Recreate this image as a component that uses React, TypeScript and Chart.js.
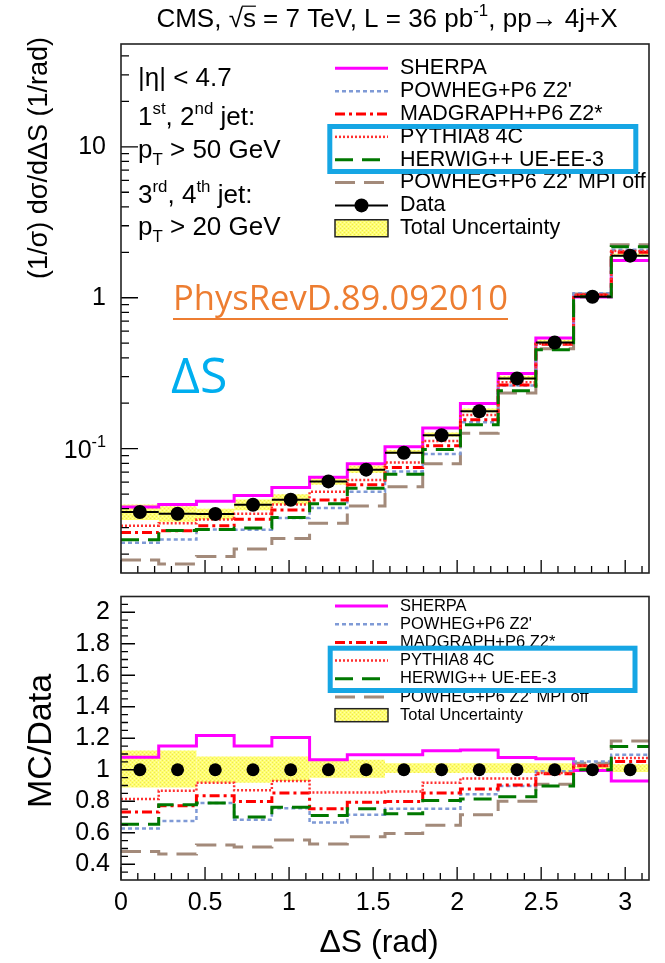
import React, { useEffect, useRef } from 'react';
import { Chart, registerables } from 'chart.js';

Chart.register(...registerables);

const FONT = '"Liberation Sans", Arial, Helvetica, sans-serif';
const DECO_FONT = '"Open Sans", "Noto Sans", sans-serif';

// ---------- data ----------
const BIN_EDGES = [0, 0.2244, 0.4488, 0.6732, 0.8976, 1.122, 1.3464, 1.5708, 1.7952, 2.0196, 2.244, 2.4684, 2.6928, 2.9172, 3.1416];

const DATA = [0.038, 0.037, 0.0369, 0.0425, 0.0459, 0.0607, 0.0726, 0.094, 0.1226, 0.177, 0.292, 0.505, 1.015, 1.9];
const UNC_HI = [0.0426, 0.0415, 0.04, 0.0461, 0.0498, 0.0646, 0.0772, 0.0979, 0.1278, 0.1844, 0.3043, 0.5262, 1.035, 1.967];
const UNC_LO = [0.0337, 0.0328, 0.0339, 0.039, 0.0426, 0.0576, 0.0689, 0.0921, 0.1201, 0.1735, 0.2862, 0.4949, 1.0, 1.872];

const SHERPA = [0.041, 0.0426, 0.0449, 0.0489, 0.0553, 0.0646, 0.0795, 0.1029, 0.1373, 0.1993, 0.3148, 0.5404, 1.01, 1.763];
const POWHEG = [0.0238, 0.025, 0.0291, 0.029, 0.0347, 0.0404, 0.0518, 0.0707, 0.0922, 0.1496, 0.2619, 0.5005, 1.069, 2.081];
const MADGRAPH = [0.0278, 0.0286, 0.0308, 0.034, 0.0392, 0.0456, 0.0576, 0.0751, 0.1046, 0.1552, 0.2637, 0.4919, 1.041, 2.001];
const PYTHIA8 = [0.0309, 0.032, 0.0339, 0.037, 0.0426, 0.0519, 0.0621, 0.081, 0.1125, 0.1673, 0.2759, 0.4949, 1.041, 2.041];
const HERWIG = [0.0249, 0.0287, 0.0291, 0.0298, 0.035, 0.0431, 0.0546, 0.0678, 0.0986, 0.1441, 0.2421, 0.453, 1.015, 2.179];
const MPI_OFF = [0.0183, 0.0172, 0.0193, 0.0216, 0.0254, 0.0321, 0.0417, 0.056, 0.0794, 0.1264, 0.2336, 0.4585, 1.058, 2.246];

const DATA_R = [1, 1, 1, 1, 1, 1, 1, 1, 1, 1, 1, 1, 1, 1];
const UNC_HI_R = [1.122, 1.122, 1.084, 1.084, 1.084, 1.064, 1.064, 1.042, 1.042, 1.042, 1.042, 1.042, 1.02, 1.035];
const UNC_LO_R = [0.887, 0.887, 0.918, 0.918, 0.928, 0.949, 0.949, 0.98, 0.98, 0.98, 0.98, 0.98, 0.985, 0.985];
const SHERPA_R = [1.08, 1.151, 1.217, 1.151, 1.204, 1.064, 1.095, 1.095, 1.12, 1.126, 1.078, 1.07, 0.995, 0.928];
const POWHEG_R = [0.627, 0.675, 0.789, 0.683, 0.756, 0.665, 0.714, 0.752, 0.752, 0.845, 0.897, 0.991, 1.053, 1.095];
const MADGRAPH_R = [0.731, 0.772, 0.835, 0.799, 0.853, 0.752, 0.793, 0.799, 0.853, 0.877, 0.903, 0.974, 1.026, 1.053];
const PYTHIA8_R = [0.814, 0.866, 0.918, 0.87, 0.928, 0.855, 0.855, 0.862, 0.918, 0.945, 0.945, 0.98, 1.026, 1.074];
const HERWIG_R = [0.654, 0.777, 0.789, 0.7, 0.762, 0.71, 0.752, 0.721, 0.804, 0.814, 0.829, 0.897, 1.0, 1.147];
const MPI_OFF_R = [0.481, 0.465, 0.523, 0.509, 0.554, 0.529, 0.575, 0.596, 0.648, 0.714, 0.8, 0.908, 1.042, 1.182];

const X_MAJOR = [0, 0.5, 1, 1.5, 2, 2.5, 3];
const X_MINOR = [0.1, 0.2, 0.3, 0.4, 0.6, 0.7, 0.8, 0.9, 1.1, 1.2, 1.3, 1.4, 1.6, 1.7, 1.8, 1.9, 2.1, 2.2, 2.3, 2.4, 2.6, 2.7, 2.8, 2.9, 3.1];
const TOP_Y_LABELS = [0.1, 1, 10];
const TOP_Y_MINOR = [0.02, 0.03, 0.04, 0.05, 0.06, 0.07, 0.08, 0.09, 0.2, 0.3, 0.4, 0.5, 0.6, 0.7, 0.8, 0.9, 2, 3, 4, 5, 6, 7, 8, 9, 20, 30, 40];
const RATIO_Y_LABELS = [0.4, 0.6, 0.8, 1, 1.2, 1.4, 1.6, 1.8, 2];
const RATIO_Y_MINOR = [0.35, 0.45, 0.5, 0.55, 0.65, 0.7, 0.75, 0.85, 0.9, 0.95, 1.05, 1.1, 1.15, 1.25, 1.3, 1.35, 1.45, 1.5, 1.55, 1.65, 1.7, 1.75, 1.85, 1.9, 1.95, 2.05];

const TOP_SERIES = [SHERPA, POWHEG, MADGRAPH, PYTHIA8, HERWIG, MPI_OFF];
const RATIO_SERIES = [SHERPA_R, POWHEG_R, MADGRAPH_R, PYTHIA8_R, HERWIG_R, MPI_OFF_R];

// ---------- styles ----------
const SERIES_STYLE = [
  { label: 'SHERPA', color: '#ff00ff', dash: [] as number[], width: 3, order: 6 },
  { label: "POWHEG+P6 Z2'", color: '#7f9ad6', dash: [4, 3], width: 2.5, order: 5 },
  { label: 'MADGRAPH+P6 Z2*', color: '#ff0000', dash: [10, 4, 3, 4], width: 3, order: 4 },
  { label: 'PYTHIA8 4C', color: '#ff3030', dash: [2, 2], width: 2.5, order: 3 },
  { label: 'HERWIG++ UE-EE-3', color: '#007800', dash: [18, 9], width: 3, order: 2 },
  { label: "POWHEG+P6 Z2' MPI off", color: '#a38a7a', dash: [20, 9], width: 3, order: 7 },
];

const TOP_Y_MIN = 0.015;
const TOP_Y_MAX = 48;
const RATIO_Y_MIN = 0.3;
const RATIO_Y_MAX = 2.1;

// ---------- helpers ----------
function centers() {
  return BIN_EDGES.slice(0, -1).map((e, i) => (e + BIN_EDGES[i + 1]) / 2);
}

function stepPoints(vals: number[], dropTo?: number) {
  const pts: { x: number; y: number }[] = vals.map((v, i) => ({ x: BIN_EDGES[i], y: v }));
  pts.push({ x: BIN_EDGES[vals.length], y: vals[vals.length - 1] });
  if (dropTo !== undefined) pts.push({ x: BIN_EDGES[vals.length], y: dropTo });
  return pts;
}

function makePattern(): CanvasPattern | string {
  const c = document.createElement('canvas');
  c.width = 4;
  c.height = 4;
  const g = c.getContext('2d');
  if (!g) return '#ffff70';
  g.fillStyle = '#ffff6e';
  g.fillRect(0, 0, 4, 4);
  g.fillStyle = '#ece35a';
  g.fillRect(0, 0, 1, 1);
  g.fillRect(2, 2, 1, 1);
  g.fillStyle = '#fffbb0';
  g.fillRect(2, 0, 1, 1);
  g.fillRect(0, 2, 1, 1);
  return g.createPattern(c, 'repeat') || '#ffff70';
}

type Part = { t: string; mode?: 'sup' | 'sub'; over?: boolean };

function richWidth(ctx: CanvasRenderingContext2D, parts: Part[], size: number, family: string) {
  let w = 0;
  for (const p of parts) {
    const s = p.mode ? size * 0.65 : size;
    ctx.font = `${s}px ${family}`;
    w += ctx.measureText(p.t).width;
  }
  return w;
}

function drawRich(ctx: CanvasRenderingContext2D, parts: Part[], x: number, y: number, size: number, family: string, align: 'left' | 'center') {
  const w = richWidth(ctx, parts, size, family);
  let cx = align === 'center' ? x - w / 2 : x;
  ctx.textAlign = 'left';
  ctx.textBaseline = 'alphabetic';
  for (const p of parts) {
    const s = p.mode ? size * 0.65 : size;
    const dy = p.mode === 'sup' ? -size * 0.42 : p.mode === 'sub' ? size * 0.25 : 0;
    ctx.font = `${s}px ${family}`;
    ctx.fillText(p.t, cx, y + dy);
    const pw = ctx.measureText(p.t).width;
    if (p.over) {
      ctx.save();
      ctx.lineWidth = 1.2;
      ctx.strokeStyle = ctx.fillStyle as string;
      ctx.beginPath();
      ctx.moveTo(cx - 1, y - size * 0.8);
      ctx.lineTo(cx + pw, y - size * 0.8);
      ctx.stroke();
      ctx.restore();
    }
    cx += pw;
  }
}

function drawTickSet(chart: any, vals: number[], len: number, axis: 'x' | 'y') {
  const { ctx, chartArea: a } = chart;
  const sc = chart.scales[axis];
  ctx.beginPath();
  for (const v of vals) {
    const p = sc.getPixelForValue(v);
    if (axis === 'x') {
      ctx.moveTo(p, a.bottom);
      ctx.lineTo(p, a.bottom - len);
    } else {
      ctx.moveTo(a.left, p);
      ctx.lineTo(a.left + len, p);
    }
  }
  ctx.stroke();
}

type LegendItem = { label: string; kind: 'line' | 'data' | 'band'; color?: string; dash?: number[]; width?: number };

function drawLegend(
  ctx: CanvasRenderingContext2D,
  items: LegendItem[],
  o: { x0: number; x1: number; textX: number; y0: number; step: number; size: number; boxH: number; pattern: CanvasPattern | string }
) {
  items.forEach((it, i) => {
    const y = o.y0 + i * o.step;
    ctx.save();
    if (it.kind === 'line') {
      ctx.strokeStyle = it.color || '#000';
      ctx.lineWidth = it.width || 2;
      ctx.setLineDash(it.dash || []);
      ctx.beginPath();
      ctx.moveTo(o.x0, y);
      ctx.lineTo(o.x1, y);
      ctx.stroke();
    } else if (it.kind === 'data') {
      ctx.strokeStyle = '#000';
      ctx.lineWidth = 2;
      ctx.beginPath();
      ctx.moveTo(o.x0, y);
      ctx.lineTo(o.x1, y);
      ctx.stroke();
      ctx.fillStyle = '#000';
      ctx.beginPath();
      ctx.arc((o.x0 + o.x1) / 2, y, 7, 0, Math.PI * 2);
      ctx.fill();
    } else {
      ctx.fillStyle = o.pattern as any;
      ctx.fillRect(o.x0, y - o.boxH / 2, o.x1 - o.x0, o.boxH);
      ctx.strokeStyle = '#222';
      ctx.lineWidth = 1.5;
      ctx.strokeRect(o.x0, y - o.boxH / 2, o.x1 - o.x0, o.boxH);
    }
    ctx.restore();
    ctx.fillStyle = '#000';
    ctx.font = `${o.size}px ${FONT}`;
    ctx.textAlign = 'left';
    ctx.textBaseline = 'middle';
    ctx.fillText(it.label, o.textX, y);
  });
}

function mcLegendItems(): LegendItem[] {
  return SERIES_STYLE.map((s) => ({ label: s.label, kind: 'line' as const, color: s.color, dash: s.dash, width: s.width }));
}

function drawFrame(chart: any) {
  const { ctx, chartArea: a } = chart;
  ctx.save();
  ctx.strokeStyle = '#222';
  ctx.lineWidth = 1.6;
  ctx.strokeRect(a.left, a.top, a.right - a.left, a.bottom - a.top);
  ctx.restore();
}

function highlightBox(ctx: CanvasRenderingContext2D, x0: number, y0: number, x1: number, y1: number) {
  ctx.save();
  ctx.strokeStyle = '#16a6e4';
  ctx.lineWidth = 5;
  ctx.strokeRect(x0, y0, x1 - x0, y1 - y0);
  ctx.restore();
}

function mcDatasets(series: number[][], dropTo?: number) {
  return SERIES_STYLE.map((s, k) => ({
    type: 'line' as const,
    label: s.label,
    data: stepPoints(series[k], dropTo),
    borderColor: s.color,
    borderDash: s.dash,
    borderWidth: s.width,
    pointRadius: 0,
    stepped: 'before' as const,
    fill: false,
    order: s.order,
  }));
}

function bandDataset(lo: number[], hi: number[], pattern: CanvasPattern | string) {
  const c = centers();
  return {
    type: 'bar' as const,
    label: 'Total Uncertainty',
    data: lo.map((v, i) => ({ x: c[i], y: [v, hi[i]] })),
    backgroundColor: pattern as any,
    borderWidth: 0,
    barPercentage: 1,
    categoryPercentage: 1,
    inflateAmount: 0,
    order: 20,
  };
}

function dotsDataset(vals: number[], r: number) {
  const c = centers();
  return {
    type: 'line' as const,
    label: 'Data',
    data: vals.map((v, i) => ({ x: c[i], y: v })),
    showLine: false,
    pointRadius: r,
    pointBackgroundColor: '#000',
    pointBorderWidth: 0,
    order: 0,
  };
}

function dataBarsDataset(vals: number[]) {
  const pts: { x: number; y: number | null }[] = [];
  vals.forEach((v, i) => {
    pts.push({ x: BIN_EDGES[i], y: v }, { x: BIN_EDGES[i + 1], y: v }, { x: BIN_EDGES[i + 1], y: null });
  });
  return {
    type: 'line' as const,
    label: 'Data bins',
    data: pts,
    borderColor: '#000',
    borderWidth: 2,
    pointRadius: 0,
    spanGaps: false,
    order: 1,
  };
}

// ---------- top panel ----------
function topConfig(pattern: CanvasPattern | string): any {
  const decor = {
    id: 'topDecor',
    afterDatasetsDraw(chart: any) {
      const { ctx } = chart;
      ctx.save();
      ctx.strokeStyle = '#000';
      ctx.lineWidth = 1.3;
      drawTickSet(chart, X_MAJOR, 13, 'x');
      drawTickSet(chart, X_MINOR, 7, 'x');
      drawTickSet(chart, TOP_Y_LABELS, 17, 'y');
      drawTickSet(chart, TOP_Y_MINOR, 8, 'y');
      ctx.restore();
      drawFrame(chart);
    },
    afterDraw(chart: any) {
      const { ctx, scales } = chart;
      ctx.save();
      ctx.fillStyle = '#000';
      // 10^-1 tick label
      const py = scales.y.getPixelForValue(0.1);
      const lab: Part[] = [{ t: '10' }, { t: '-1', mode: 'sup' }];
      const w = richWidth(ctx, lab, 25, FONT);
      drawRich(ctx, lab, 106 - w, py + 9, 25, FONT, 'left');

      // title
      drawRich(
        ctx,
        [{ t: 'CMS, ' }, { t: '√' }, { t: 's', over: true }, { t: ' = 7 TeV, L = 36 pb' }, { t: '-1', mode: 'sup' }, { t: ', pp→ 4j+X' }],
        387,
        27,
        26,
        FONT,
        'center'
      );

      // y axis title
      ctx.save();
      ctx.translate(40, 37);
      ctx.rotate(-Math.PI / 2);
      ctx.font = `27px ${FONT}`;
      ctx.textAlign = 'right';
      ctx.textBaseline = 'middle';
      ctx.fillText('(1/σ) dσ/dΔS (1/rad)', 0, 0);
      ctx.restore();

      // cuts text
      const S = 26;
      drawRich(ctx, [{ t: '|η| < 4.7' }], 138, 86, S, FONT, 'left');
      drawRich(ctx, [{ t: '1' }, { t: 'st', mode: 'sup' }, { t: ', 2' }, { t: 'nd', mode: 'sup' }, { t: ' jet:' }], 138, 125, S, FONT, 'left');
      drawRich(ctx, [{ t: 'p' }, { t: 'T', mode: 'sub' }, { t: ' > 50 GeV' }], 138, 158, S, FONT, 'left');
      drawRich(ctx, [{ t: '3' }, { t: 'rd', mode: 'sup' }, { t: ', 4' }, { t: 'th', mode: 'sup' }, { t: ' jet:' }], 138, 203, S, FONT, 'left');
      drawRich(ctx, [{ t: 'p' }, { t: 'T', mode: 'sub' }, { t: ' > 20 GeV' }], 138, 235, S, FONT, 'left');

      // legend
      const items: LegendItem[] = [
        ...mcLegendItems(),
        { label: 'Data', kind: 'data' },
        { label: 'Total Uncertainty', kind: 'band' },
      ];
      drawLegend(ctx, items, { x0: 335, x1: 388, textX: 400, y0: 68.3, step: 22.85, size: 21.5, boxH: 17, pattern });
      highlightBox(ctx, 329.8, 126.5, 635.8, 171.5);

      // reference annotation
      ctx.fillStyle = '#ed7d31';
      let fs = 32;
      ctx.font = `${fs}px ${DECO_FONT}`;
      const tw = ctx.measureText('PhysRevD.89.092010').width;
      fs = (fs * 335) / tw;
      ctx.font = `${fs}px ${DECO_FONT}`;
      ctx.textAlign = 'left';
      ctx.textBaseline = 'alphabetic';
      ctx.fillText('PhysRevD.89.092010', 173, 310);
      ctx.fillRect(173, 318, 335, 2);

      ctx.fillStyle = '#00aeef';
      ctx.font = `50px ${DECO_FONT}`;
      ctx.fillText('ΔS', 171, 393);
      ctx.restore();
    },
  };

  return {
    type: 'line',
    data: {
      datasets: [
        bandDataset(UNC_LO, UNC_HI, pattern),
        ...mcDatasets(TOP_SERIES, 1e-4),
        dataBarsDataset(DATA),
        dotsDataset(DATA, 7),
      ],
    },
    options: {
      responsive: false,
      animation: false,
      events: [],
      layout: { padding: { left: 0, top: 44, right: 16, bottom: 0 } },
      plugins: { legend: { display: false }, tooltip: { enabled: false }, title: { display: false } },
      scales: {
        x: {
          type: 'linear',
          min: 0,
          max: Math.PI,
          offset: false,
          grid: { display: false, drawTicks: false },
          border: { display: false },
          ticks: { display: false },
          afterFit: (s: any) => {
            s.height = 17;
            s.paddingLeft = 0;
            s.paddingRight = 0;
          },
        },
        y: {
          type: 'logarithmic',
          min: TOP_Y_MIN,
          max: TOP_Y_MAX,
          grid: { display: false, drawTicks: false },
          border: { display: false },
          afterBuildTicks: (s: any) => {
            s.ticks = TOP_Y_LABELS.map((v) => ({ value: v }));
          },
          ticks: {
            callback: (v: number) => (v === 10 ? '10' : v === 1 ? '1' : ''),
            font: { family: FONT, size: 25 },
            color: '#000',
            padding: 15,
          },
          afterFit: (s: any) => {
            s.width = 121;
            s.paddingTop = 0;
            s.paddingBottom = 0;
          },
        },
      },
    },
    plugins: [decor],
  };
}

// ---------- ratio panel ----------
function ratioConfig(pattern: CanvasPattern | string): any {
  const decor = {
    id: 'ratioDecor',
    afterDatasetsDraw(chart: any) {
      const { ctx } = chart;
      ctx.save();
      ctx.strokeStyle = '#000';
      ctx.lineWidth = 1.3;
      drawTickSet(chart, X_MAJOR, 13, 'x');
      drawTickSet(chart, X_MINOR, 7, 'x');
      drawTickSet(chart, RATIO_Y_LABELS, 14, 'y');
      drawTickSet(chart, RATIO_Y_MINOR, 7, 'y');
      ctx.restore();
      drawFrame(chart);
    },
    afterDraw(chart: any) {
      const { ctx } = chart;
      ctx.save();
      ctx.fillStyle = '#000';
      // y title
      ctx.save();
      ctx.translate(42, 151);
      ctx.rotate(-Math.PI / 2);
      ctx.font = `34px ${FONT}`;
      ctx.textAlign = 'center';
      ctx.textBaseline = 'middle';
      ctx.fillText('MC/Data', 0, 0);
      ctx.restore();
      // x title
      drawRich(ctx, [{ t: 'ΔS (rad)' }], 379, 362, 32, FONT, 'center');

      const items: LegendItem[] = [...mcLegendItems(), { label: 'Total Uncertainty', kind: 'band' }];
      drawLegend(ctx, items, { x0: 335, x1: 388, textX: 400, y0: 16, step: 18.2, size: 16.5, boxH: 13, pattern });
      highlightBox(ctx, 330.2, 58.2, 635, 100.5);
      ctx.restore();
    },
  };

  return {
    type: 'line',
    data: {
      datasets: [bandDataset(UNC_LO_R, UNC_HI_R, pattern), ...mcDatasets(RATIO_SERIES), dotsDataset(DATA_R, 6.5)],
    },
    options: {
      responsive: false,
      animation: false,
      events: [],
      layout: { padding: { left: 0, top: 3, right: 16, bottom: 0 } },
      plugins: { legend: { display: false }, tooltip: { enabled: false }, title: { display: false } },
      scales: {
        x: {
          type: 'linear',
          min: 0,
          max: Math.PI,
          offset: false,
          grid: { display: false, drawTicks: false },
          border: { display: false },
          afterBuildTicks: (s: any) => {
            s.ticks = X_MAJOR.map((v) => ({ value: v }));
          },
          ticks: {
            callback: (v: number) => String(v),
            font: { family: FONT, size: 25 },
            color: '#000',
            padding: 8,
            maxRotation: 0,
            autoSkip: false,
          },
          afterFit: (s: any) => {
            s.height = 83;
            s.paddingLeft = 0;
            s.paddingRight = 0;
          },
        },
        y: {
          type: 'linear',
          min: RATIO_Y_MIN,
          max: RATIO_Y_MAX,
          grid: { display: false, drawTicks: false },
          border: { display: false },
          afterBuildTicks: (s: any) => {
            s.ticks = RATIO_Y_LABELS.map((v) => ({ value: v }));
          },
          ticks: {
            callback: (v: number) => String(Math.round(v * 10) / 10),
            font: { family: FONT, size: 25 },
            color: '#000',
            padding: 11,
          },
          afterFit: (s: any) => {
            s.width = 121;
            s.paddingTop = 0;
            s.paddingBottom = 0;
          },
        },
      },
    },
    plugins: [decor],
  };
}

export default function App() {
  const topRef = useRef<HTMLCanvasElement>(null);
  const botRef = useRef<HTMLCanvasElement>(null);

  useEffect(() => {
    const pattern = makePattern();
    const top = new Chart(topRef.current as HTMLCanvasElement, topConfig(pattern));
    const bot = new Chart(botRef.current as HTMLCanvasElement, ratioConfig(pattern));
    return () => {
      top.destroy();
      bot.destroy();
    };
  }, []);

  return (
    <div style={{ position: 'absolute', left: 0, top: 0, width: 665, height: 963, background: '#fff', overflow: 'hidden' }}>
      <canvas ref={topRef} width={665} height={590} style={{ position: 'absolute', left: 0, top: 0, width: 665, height: 590 }} />
      <canvas ref={botRef} width={665} height={373} style={{ position: 'absolute', left: 0, top: 590, width: 665, height: 373 }} />
    </div>
  );
}
